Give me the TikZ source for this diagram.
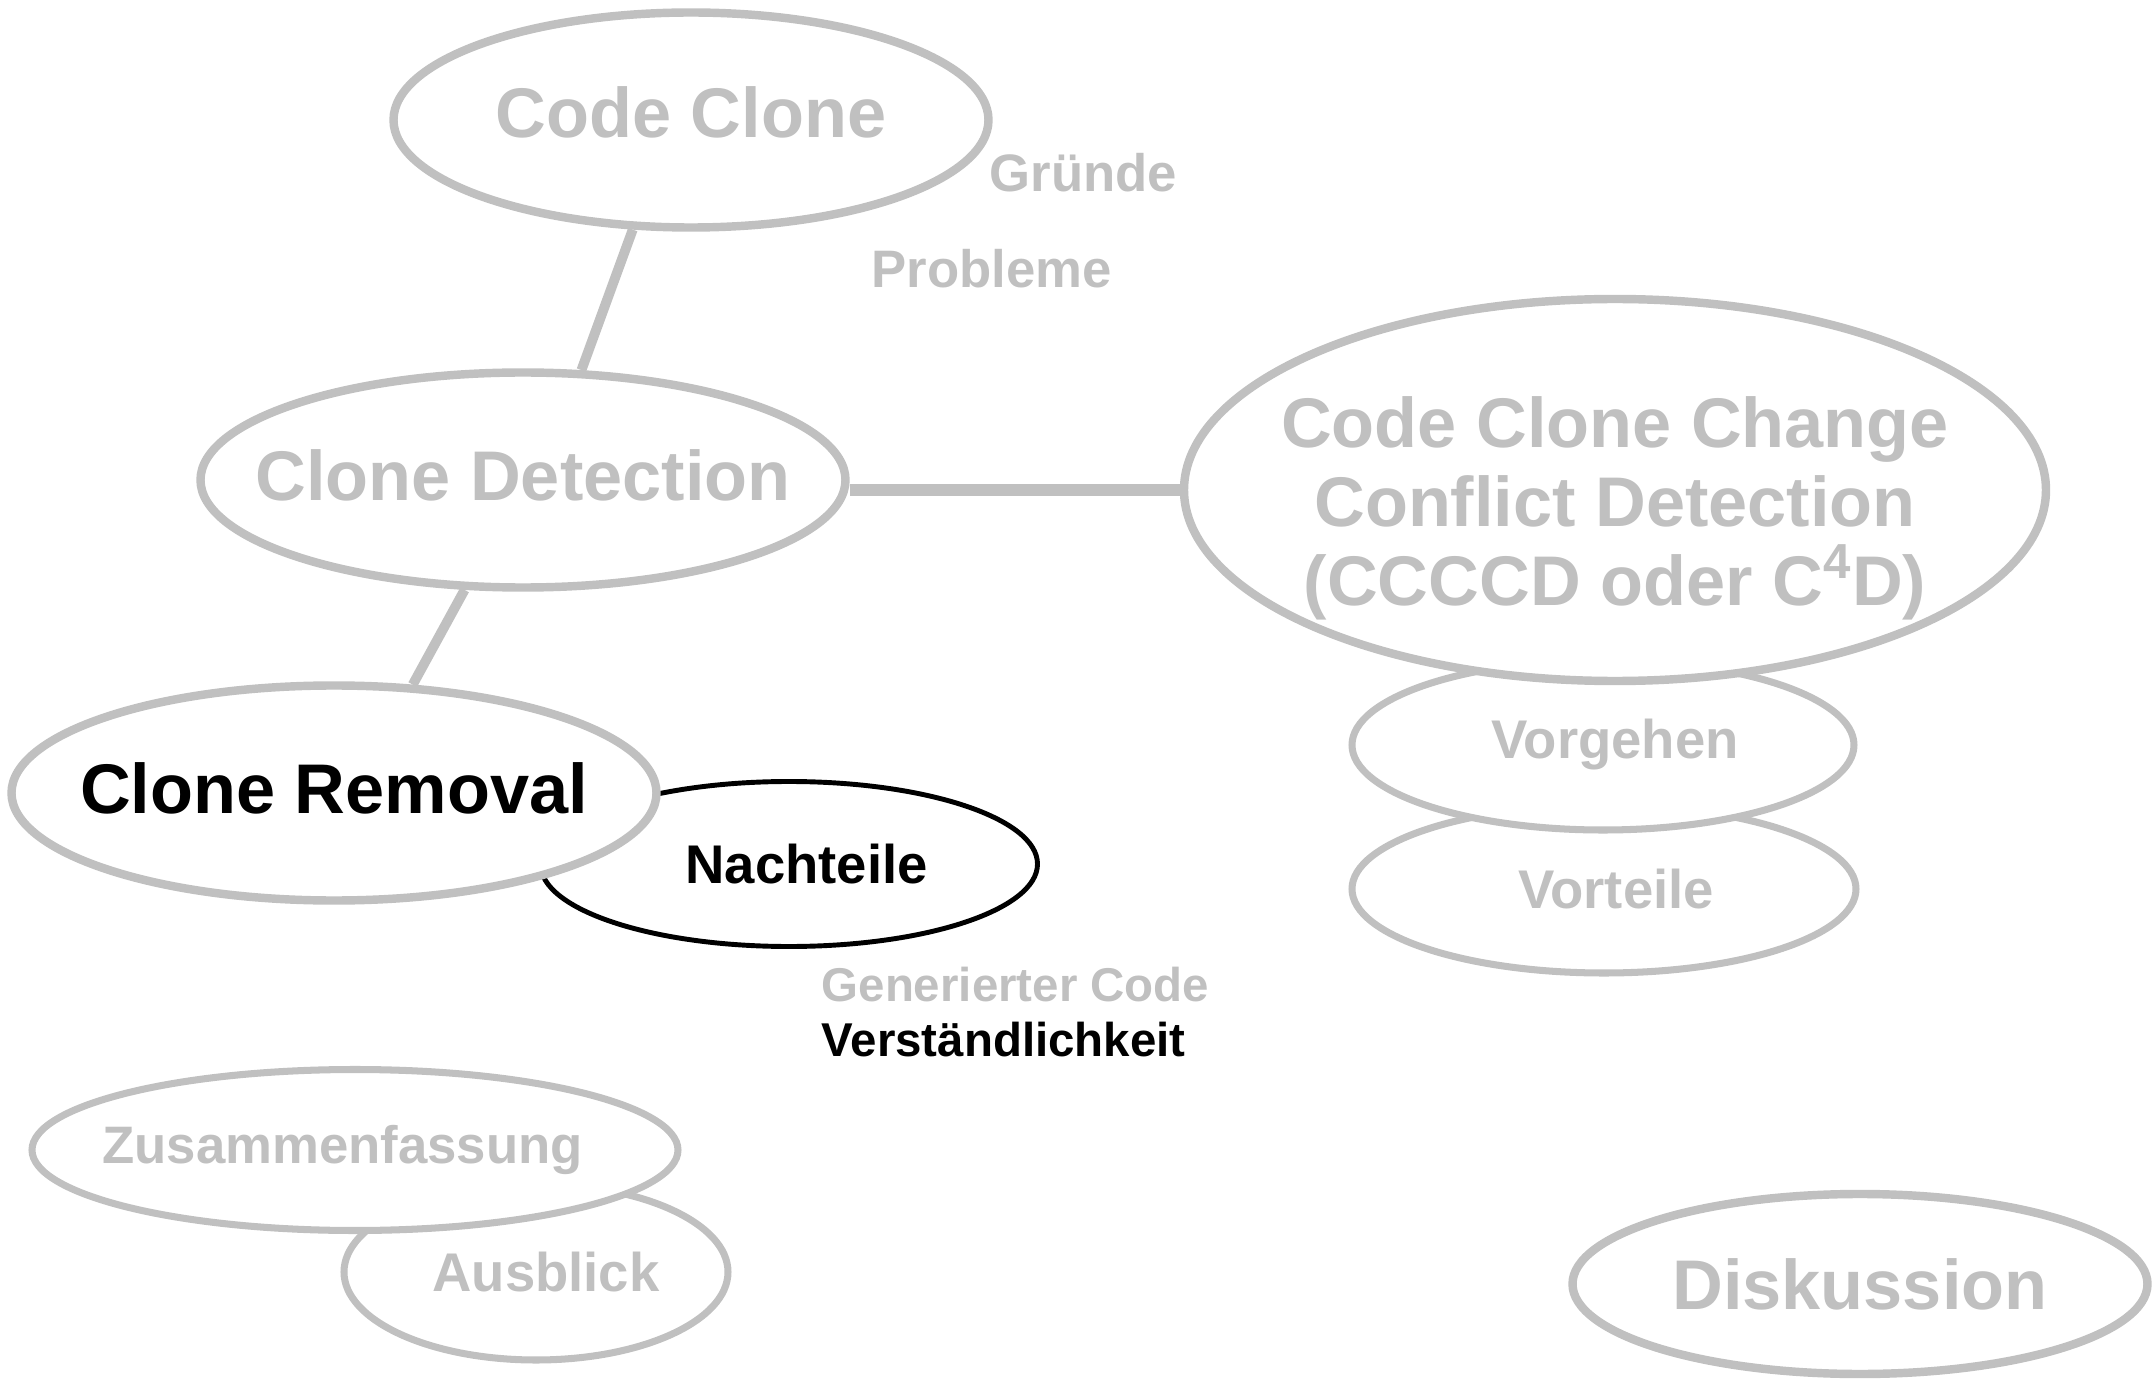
\documentclass[tikz,border=0pt]{standalone}
\usepackage{fontspec}
\setmainfont{Liberation Sans}
\usetikzlibrary{
  calc,
  positioning,
  shapes
}
\definecolor{clgray}{RGB}{192,192,192}
\tikzset{
  topic/.style={ellipse, draw=clgray, line width=2.4pt, fill=white, text=clgray,
    inner xsep=-2cm, inner ysep=0pt, align=center, font=\fontsize{20}{22.4}\selectfont\bfseries},
  subtopic/.style={topic, line width=2pt, font=\fontsize{15.5}{18}\selectfont\bfseries},
  keyword/.style={inner sep=0pt, anchor=base west, text=clgray,
    font=\fontsize{15}{18}\selectfont\bfseries},
  link/.style={draw=clgray, line width=2.8pt}
}

\begin{document}
\begin{tikzpicture}[x=1cm, y=-1cm]
      \useasboundingbox (0, 0) rectangle (21.55, 13.8);

      % Code Clone
      \node[topic, minimum width=5.95cm, minimum height=2.15cm] (codeclone) at (6.91, 1.20) {\rule[-0.16cm]{0pt}{0pt}Code Clone};
      \node[keyword] (gruende) at (9.89, 1.92) {Gründe};
      \node[keyword] (probleme) at (8.71, 2.88) {Probleme};

      % detection and C4D
      \node[topic, minimum width=6.45cm, minimum height=2.15cm] (detection) at (5.23, 4.80) {\rule[-0.1cm]{0pt}{0pt}Clone Detection};
      \node[subtopic, minimum width=5.04cm, minimum height=1.68cm] (vorteile) at (16.04, 8.89) {\hspace*{0.24cm}Vorteile};
      \node[subtopic, minimum width=5.02cm, minimum height=1.70cm] (vorgehen) at (16.03, 7.45) {\hspace*{0.24cm}Vorgehen};
      \node[topic, minimum width=8.62cm, minimum height=3.82cm] (cccd) at (16.15, 4.90)
        {\rule{0pt}{25pt}Code Clone Change\\Conflict Detection\\(CCCCD oder C\textsuperscript{4}D)};

      % removal
      \node[subtopic, draw=black, text=black, line width=1.4pt, minimum width=4.97cm, minimum height=1.65cm] (nachteile) at (7.89, 8.64) {\hspace*{0.35cm}Nachteile};
      \node[topic, text=black, minimum width=6.45cm, minimum height=2.15cm] (removal) at (3.34, 7.93) {\rule[-0.1cm]{0pt}{0pt}Clone Removal};
      \node[keyword, font=\fontsize{13.5}{16}\selectfont\bfseries] (generiert) at (8.21, 10.01) {Generierter Code};
      \node[keyword, text=black, font=\fontsize{13.5}{16}\selectfont\bfseries] (verstaendlich) at (8.21, 10.56) {Verständlichkeit};

      % closing
      \node[subtopic, minimum width=3.84cm, minimum height=1.76cm] (ausblick) at (5.36, 12.72) {\hspace*{0.2cm}Ausblick};
      \node[subtopic, font=\fontsize{15}{18}\selectfont\bfseries, minimum width=6.46cm, minimum height=1.61cm] (zusammen) at (3.55, 11.50) {\hspace*{-0.25cm}Zusammenfassung};
      \node[topic, minimum width=5.75cm, minimum height=1.80cm] (diskussion) at (18.60, 12.84) {Diskussion};

      \draw[link] (codeclone.242) -- (detection.62);
      \draw[link] (detection.242) -- (removal.54);
      \draw[link, line width=3.4pt] (detection.east |- cccd.west) -- (cccd.west);
\end{tikzpicture}
\end{document}
